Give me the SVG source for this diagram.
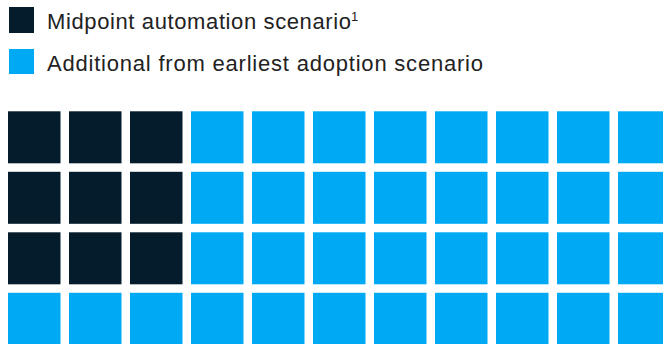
<svg xmlns="http://www.w3.org/2000/svg" width="663" height="344" viewBox="0 0 663 344">
<style>
.d{fill:#051C2C}
.b{fill:#00A9F4}
.t{font-family:"Liberation Sans",Arial,sans-serif;font-size:22px;fill:#222222}
.sup{font-size:13px}
</style>
<defs>
<rect id="s" width="52.5" height="52" />
</defs>
<rect width="663" height="344" fill="#ffffff"/>
<g id="legend">
<rect class="d" x="9" y="7" width="25" height="26"/>
<text class="t" x="47" y="28.5" textLength="304" lengthAdjust="spacing">Midpoint automation scenario</text>
<text class="t sup" x="351" y="20.5">1</text>
<rect class="b" x="9" y="49" width="25" height="25"/>
<text class="t" x="47" y="70.5" textLength="436" lengthAdjust="spacing">Additional from earliest adoption scenario</text>
</g>
<g id="grid">
<g id="row1">
<use href="#s" class="d" x="8" y="111.3"/><use href="#s" class="d" x="69" y="111.3"/><use href="#s" class="d" x="130" y="111.3"/>
<use href="#s" class="b" x="191" y="111.3"/><use href="#s" class="b" x="252" y="111.3"/><use href="#s" class="b" x="313" y="111.3"/><use href="#s" class="b" x="374" y="111.3"/><use href="#s" class="b" x="435" y="111.3"/><use href="#s" class="b" x="496" y="111.3"/><use href="#s" class="b" x="557" y="111.3"/><use href="#s" class="b" x="618" y="111.3"/>
</g>
<g id="row2">
<use href="#s" class="d" x="8" y="171.8"/><use href="#s" class="d" x="69" y="171.8"/><use href="#s" class="d" x="130" y="171.8"/>
<use href="#s" class="b" x="191" y="171.8"/><use href="#s" class="b" x="252" y="171.8"/><use href="#s" class="b" x="313" y="171.8"/><use href="#s" class="b" x="374" y="171.8"/><use href="#s" class="b" x="435" y="171.8"/><use href="#s" class="b" x="496" y="171.8"/><use href="#s" class="b" x="557" y="171.8"/><use href="#s" class="b" x="618" y="171.8"/>
</g>
<g id="row3">
<use href="#s" class="d" x="8" y="232.3"/><use href="#s" class="d" x="69" y="232.3"/><use href="#s" class="d" x="130" y="232.3"/>
<use href="#s" class="b" x="191" y="232.3"/><use href="#s" class="b" x="252" y="232.3"/><use href="#s" class="b" x="313" y="232.3"/><use href="#s" class="b" x="374" y="232.3"/><use href="#s" class="b" x="435" y="232.3"/><use href="#s" class="b" x="496" y="232.3"/><use href="#s" class="b" x="557" y="232.3"/><use href="#s" class="b" x="618" y="232.3"/>
</g>
<g id="row4">
<use href="#s" class="b" x="8" y="292.8"/><use href="#s" class="b" x="69" y="292.8"/><use href="#s" class="b" x="130" y="292.8"/>
<use href="#s" class="b" x="191" y="292.8"/><use href="#s" class="b" x="252" y="292.8"/><use href="#s" class="b" x="313" y="292.8"/><use href="#s" class="b" x="374" y="292.8"/><use href="#s" class="b" x="435" y="292.8"/><use href="#s" class="b" x="496" y="292.8"/><use href="#s" class="b" x="557" y="292.8"/><use href="#s" class="b" x="618" y="292.8"/>
</g>
</g>
</svg>
